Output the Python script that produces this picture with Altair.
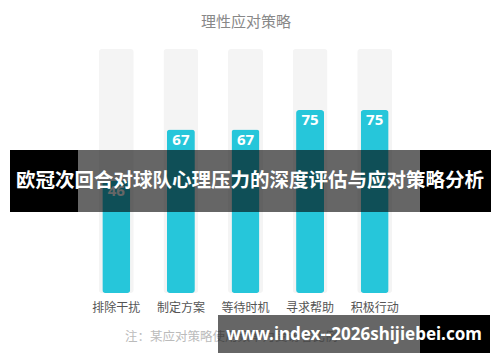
import altair as alt
import pandas as pd

categories = ["排除干扰", "制定方案", "等待时机", "寻求帮助", "积极行动"]
values = [46, 67, 67, 75, 75]
track_max = [100, 100, 100, 100, 100]

chart_title = "理性应对策略"
footnote = "注：某应对策略使用频率为受访者比例"
banner_text = "欧冠次回合对球队心理压力的深度评估与应对策略分析"
watermark_text = "www.index--2026shijiebei.com"

df = pd.DataFrame({"cat": categories, "val": values, "track": track_max})

CJK = "Noto Sans CJK SC"
xscale = alt.Scale(domain=categories, paddingInner=0, paddingOuter=0)
yscale = alt.Scale(domain=[0, 100])

base = alt.Chart(df)

tracks = base.mark_bar(size=35, color="#f4f4f4", cornerRadius=3).encode(
    x=alt.X("cat:N", scale=xscale, sort=categories,
            axis=alt.Axis(title=None, domain=False, ticks=False, labelAngle=0,
                          labelFont=CJK, labelFontSize=12, labelColor="#555555",
                          labelPadding=9)),
    y=alt.Y("track:Q", scale=yscale, axis=None),
)

bars = base.mark_bar(size=28, color="#26c6da", cornerRadius=3).encode(
    x=alt.X("cat:N", scale=xscale, sort=categories),
    y=alt.Y("val:Q", scale=yscale),
)

labels = base.mark_text(color="white", font="Noto Sans", fontSize=15,
                        fontWeight="bold", baseline="middle", dy=10).encode(
    x=alt.X("cat:N", scale=xscale, sort=categories),
    y=alt.Y("val:Q", scale=yscale),
    text=alt.Text("val:Q"),
)

one = alt.Chart(alt.Data(values=[{"a": 1}]))

title_mark = one.mark_text(text=chart_title, font=CJK, fontSize=15,
                           color="#888888", align="center", baseline="middle").encode(
    x=alt.value(162), y=alt.value(-27))

foot_mark = one.mark_text(text=footnote, font=CJK, fontSize=12.5,
                          color="#bbbbbb", align="left", baseline="middle").encode(
    x=alt.value(41), y=alt.value(288))

def rect(x1, x2, y1, y2, opacity):
    return one.mark_rect(color="black", opacity=opacity).encode(
        x=alt.value(x1), x2=alt.value(x2), y=alt.value(y1), y2=alt.value(y2))

banner = (rect(-74, -6, 101, 163, 1.0) + rect(-6, 336, 101, 163, 0.6)
          + rect(336, 407, 101, 163, 1.0))
banner_txt = one.mark_text(text=banner_text, font=CJK, fontSize=19.5,
                           fontWeight="bold", color="white", align="center",
                           baseline="middle").encode(
    x=alt.value(166), y=alt.value(132))

wm = rect(134, 336, 266, 304, 0.6) + rect(336, 406, 266, 304, 1.0)
wm_txt = one.mark_text(text=watermark_text, font="Noto Sans", fontSize=17,
                       fontWeight="bold", color="white", align="center",
                       baseline="middle").encode(
    x=alt.value(270), y=alt.value(286))

chart = alt.layer(tracks, bars, labels, title_mark, foot_mark,
                  banner, banner_txt, wm, wm_txt).properties(
    width=323, height=244,
    autosize=alt.AutoSizeParams(type="none"),
    padding={"left": 76, "top": 41, "right": 85, "bottom": 69},
    background="white",
).configure_view(stroke=None)

chart.save("out.html", embed_options={"renderer": "svg", "actions": False})
